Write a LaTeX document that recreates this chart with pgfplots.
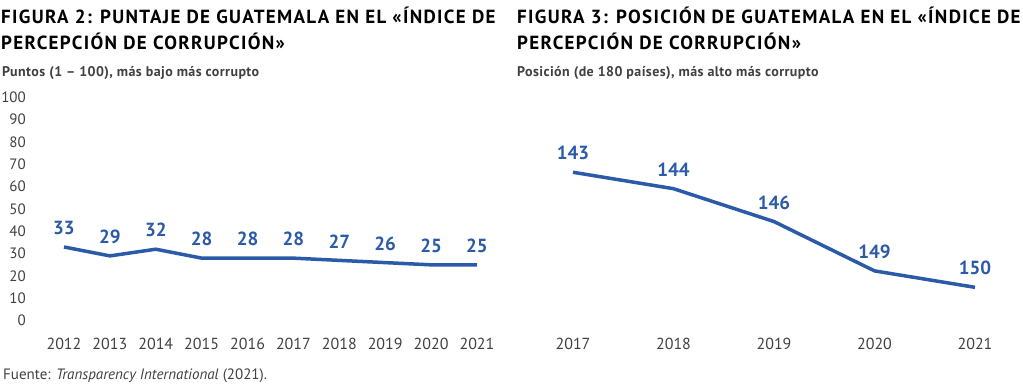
\documentclass[border=0pt]{standalone}
\usepackage{fontspec}
\setmainfont{PT Sans}
\newfontfamily\titlefont[LetterSpace=7]{PT Sans}
\newfontfamily\subfont[LetterSpace=3]{PT Sans}
\usepackage{pgfplots}
\pgfplotsset{compat=1.18}
\definecolor{cblue}{HTML}{2B5AA8}
\definecolor{cgray}{HTML}{404040}
\pgfplotsset{
  /pgf/number format/assume math mode=true,
  /pgf/number format/1000 sep={},
  base/.style={
    scale only axis, clip=false,
    axis line style={draw=none},
    tick style={draw=none},
    height=223.4pt,
    xticklabel style={font=\fontsize{16}{16}\selectfont, text=cgray, anchor=north, inner sep=0pt, yshift=-17pt},
    xtick=data,
    nodes near coords,
    every node near coord/.append style={anchor=south, inner sep=0pt, yshift=10.5pt,
      font=\fontsize{19}{19}\selectfont\bfseries, text=cblue},
  },
}
\begin{document}
\begin{tikzpicture}
\path[use as bounding box] (0pt,0pt) rectangle (1023pt,387pt);
% Titles
\node[anchor=base west, inner sep=0pt, font=\titlefont\fontsize{19}{27}\selectfont\bfseries, text=black] at (1pt,363.7pt)
  {FIGURA 2: PUNTAJE DE GUATEMALA EN EL «ÍNDICE DE};
\node[anchor=base west, inner sep=0pt, font=\titlefont\fontsize{19}{27}\selectfont\bfseries, text=black] at (1pt,337pt)
  {PERCEPCIÓN DE CORRUPCIÓN»};
\node[anchor=base west, inner sep=0pt, font=\subfont\fontsize{14}{14}\selectfont\bfseries, text=cgray] at (2pt,310.3pt)
  {Puntos (1 – 100), más bajo más corrupto};
\node[anchor=base west, inner sep=0pt, font=\titlefont\fontsize{19}{27}\selectfont\bfseries, text=black] at (517pt,363.7pt)
  {FIGURA 3: POSICIÓN DE GUATEMALA EN EL «ÍNDICE DE};
\node[anchor=base west, inner sep=0pt, font=\titlefont\fontsize{19}{27}\selectfont\bfseries, text=black] at (517pt,337pt)
  {PERCEPCIÓN DE CORRUPCIÓN»};
\node[anchor=base west, inner sep=0pt, font=\subfont\fontsize{14}{14}\selectfont\bfseries, text=cgray] at (517pt,310.3pt)
  {Posición (de 180 países), más alto más corrupto};
\node[anchor=base west, inner sep=0pt, font=\fontsize{15}{15}\selectfont, text=cgray] at (3pt,7pt)
  {Fuente: \textit{Transparency International} (2021).};
% Left axis
\begin{axis}[base, at={(64pt,66.3pt)}, anchor=south west, width=413pt,
  xmin=2012, xmax=2021, ymin=0, ymax=100,
  ytick={0,10,...,100},
  yticklabel style={font=\fontsize{15}{15}\selectfont, text=cgray, anchor=east, inner sep=0pt, xshift=-38pt},
]
\addplot[cblue, line width=3.5pt] coordinates {
(2012,33) (2013,29) (2014,32) (2015,28) (2016,28) (2017,28) (2018,27) (2019,26) (2020,25) (2021,25)};
\end{axis}
% Right axis
\begin{axis}[base, at={(573pt,66.3pt)}, anchor=south west, width=402pt,
  xmin=2017, xmax=2021, ymin=138.44, ymax=152.03, y dir=reverse,
  ytick=\empty,
]
\addplot[cblue, line width=3.5pt] coordinates {
(2017,143) (2018,144) (2019,146) (2020,149) (2021,150)};
\end{axis}
\end{tikzpicture}
\end{document}
